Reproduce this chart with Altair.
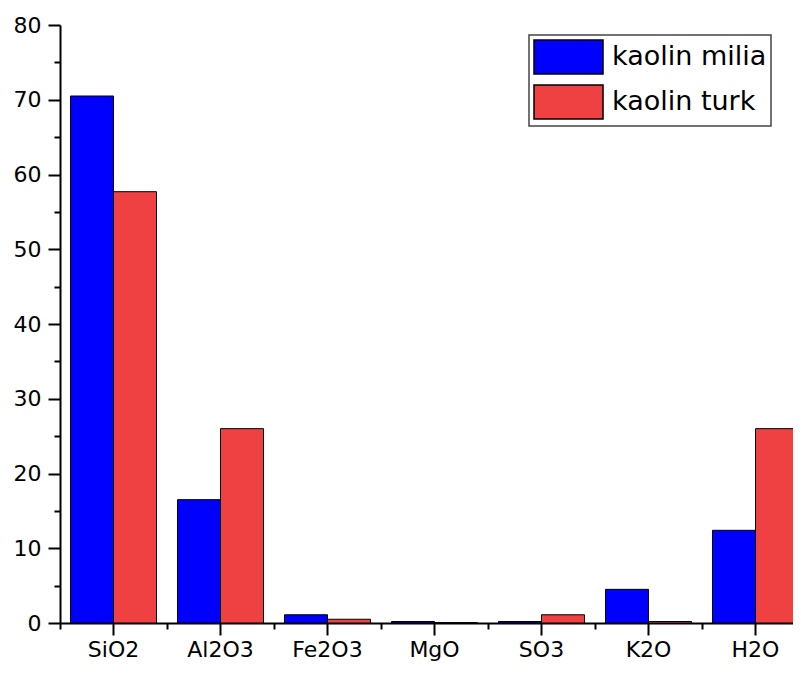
import altair as alt
import pandas as pd

oxides = ["SiO2", "Al2O3", "Fe2O3", "MgO", "SO3", "K2O", "H2O"]
kaolin_milia = [70.5, 16.5, 1.1, 0.2, 0.2, 4.5, 12.4]
kaolin_turk = [57.7, 26.0, 0.5, 0.05, 1.1, 0.2, 26.0]
series_names = ["kaolin milia", "kaolin turk"]
series_colors = ["#0000FF", "#EF4141"]
major_y = [0, 10, 20, 30, 40, 50, 60, 70, 80]
minor_y = [5, 15, 25, 35, 45, 55, 65, 75]

rows = []
for i, o in enumerate(oxides):
    rows.append({"oxide": o, "series": series_names[0], "value": kaolin_milia[i]})
    rows.append({"oxide": o, "series": series_names[1], "value": kaolin_turk[i]})
df = pd.DataFrame(rows)

FONT = "DejaVu Sans"
x_scale = alt.Scale(domain=oxides, paddingInner=0, paddingOuter=0)
y_scale = alt.Scale(domain=[0, 80], nice=False, zero=True)
color_scale = alt.Scale(domain=series_names, range=series_colors)
xoff = alt.XOffset("series:N", sort=series_names,
                   scale=alt.Scale(paddingInner=0, paddingOuter=0.244))

bars = alt.Chart(df).mark_bar(stroke="black", strokeWidth=1, opacity=1).encode(
    x=alt.X("oxide:N", sort=oxides, scale=x_scale, title=None,
            axis=alt.Axis(orient="bottom", labelAngle=0, tickSize=12, tickWidth=2,
                          domainWidth=2, domainColor="black", tickColor="black",
                          labelFontSize=22, labelFont=FONT, labelColor="black",
                          labelPadding=4, grid=False)),
    y=alt.Y("value:Q", scale=y_scale, title=None,
            axis=alt.Axis(orient="left", values=major_y, tickSize=12, tickWidth=2,
                          domainWidth=2, domainColor="black", tickColor="black",
                          labelFontSize=22, labelFont=FONT, labelColor="black",
                          labelPadding=7, grid=False)),
    xOffset=xoff,
    color=alt.Color("series:N", scale=color_scale, sort=series_names,
                    legend=alt.Legend(title=None, orient="none", legendX=469, legendY=10,
                                      symbolType="M-1,-1H3.06V1H-1Z",
                                      symbolSize=1156, symbolStrokeColor="black",
                                      symbolStrokeWidth=1.5, symbolOpacity=1,
                                      labelFontSize=27, labelFont=FONT,
                                      labelColor="black", labelOffset=43,
                                      rowPadding=5, padding=4,
                                      strokeColor="#444444", fillColor="white")),
)

minor = alt.Chart(df).mark_bar(opacity=0).encode(
    x=alt.X("oxide:N", sort=oxides, scale=x_scale, title=None,
            axis=alt.Axis(orient="bottom", tickBand="extent", labels=False,
                          tickSize=6, tickWidth=2, tickColor="black",
                          domain=False, grid=False)),
    y=alt.Y("value:Q", scale=y_scale, title=None,
            axis=alt.Axis(orient="left", values=minor_y, labels=False,
                          tickSize=6, tickWidth=2, tickColor="black",
                          domain=False, grid=False)),
    xOffset=xoff,
)

chart = alt.layer(bars, minor).resolve_axis(
    x="independent", y="independent"
).properties(
    width=749, height=598,
    autosize=alt.AutoSizeParams(type="none"),
    padding={"left": 52, "top": 17, "right": -16, "bottom": 39},
).configure_view(stroke=None).configure_legend(strokeWidth=1.5)

chart.save("out.html", embed_options={"renderer": "svg", "actions": False})
